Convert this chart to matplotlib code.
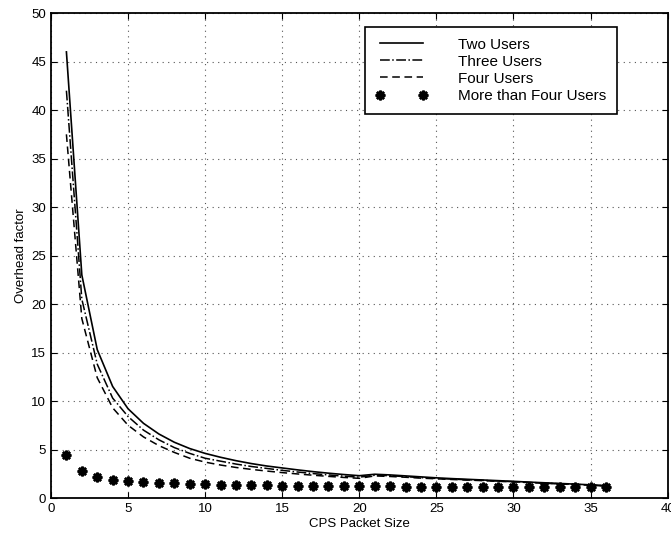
import matplotlib
matplotlib.use("Agg")
import matplotlib.pyplot as plt

x = list(range(1, 37))
two_users = [46, 23, 15.3, 11.5, 9.2, 7.7, 6.6, 5.75, 5.1, 4.6, 4.2, 3.85, 3.55, 3.3, 3.1, 2.9,
             2.72, 2.56, 2.42, 2.3, 2.45, 2.38, 2.28, 2.18, 2.08, 2.0, 1.93, 1.86, 1.79, 1.72,
             1.64, 1.57, 1.5, 1.43, 1.36, 1.28]
three_users = [42, 20.5, 13.8, 10.3, 8.4, 7.0, 6.0, 5.2, 4.6, 4.1, 3.8, 3.5, 3.25, 3.05, 2.85,
               2.68, 2.52, 2.38, 2.25, 2.15, 2.35, 2.3, 2.2, 2.1, 2.02, 1.95, 1.88, 1.82, 1.75,
               1.68, 1.61, 1.54, 1.47, 1.4, 1.33, 1.26]
four_users = [37.5, 18.5, 12.4, 9.3, 7.5, 6.3, 5.4, 4.7, 4.1, 3.7, 3.4, 3.15, 2.95, 2.78, 2.62,
              2.48, 2.35, 2.23, 2.12, 2.03, 2.28, 2.22, 2.14, 2.05, 1.98, 1.91, 1.85, 1.79, 1.72,
              1.66, 1.59, 1.52, 1.45, 1.38, 1.31, 1.24]
more_users = [4.45, 2.75, 2.2, 1.9, 1.75, 1.65, 1.58, 1.52, 1.47, 1.42, 1.39, 1.36, 1.33, 1.31,
              1.29, 1.27, 1.25, 1.23, 1.22, 1.21, 1.2, 1.19, 1.18, 1.17, 1.16, 1.15, 1.15, 1.14,
              1.13, 1.13, 1.12, 1.12, 1.11, 1.11, 1.1, 1.1]

plt.rcParams['font.family'] = ['Liberation Sans', 'DejaVu Sans']

fig = plt.figure(figsize=(6.71, 5.37), dpi=100)
ax = fig.add_axes([0.076, 0.0726, 0.919, 0.903])

ax.plot(x, two_users, '-', color='black', lw=1.2, label='Two Users')
ax.plot(x, three_users, '-.', color='black', lw=1.1, label='Three Users')
ax.plot(x, four_users, '--', color='black', lw=1.1, label='Four Users', dashes=(5, 3))
ax.plot(x, more_users, linestyle='none', marker=(8, 2, 0), markersize=7, mew=1.8,
        color='black', label='More than Four Users')

ax.set_xlim(0, 40)
ax.set_ylim(0, 50)
ax.set_xticks(range(0, 41, 5))
ax.set_yticks(range(0, 51, 5))
ax.tick_params(direction='in', labelsize=9.5, length=4, top=True, right=True)
ax.grid(True, linestyle=(0, (1, 4)), color='#555555', linewidth=0.8)
for s in ax.spines.values():
    s.set_linewidth(1.3)
ax.set_xlabel('CPS Packet Size', fontsize=9.5, labelpad=2)
ax.set_ylabel('Overhead factor', fontsize=9.5, labelpad=3)

leg = ax.legend(loc='upper right', bbox_to_anchor=(617 / 671, 1 - 27 / 537),
                bbox_transform=fig.transFigure, fontsize=11, handlelength=3.4,
                numpoints=2, fancybox=False, edgecolor='black', framealpha=1,
                borderpad=0.7, labelspacing=0.2, handletextpad=2.0, borderaxespad=0)
leg.get_frame().set_linewidth(1.2)

fig.savefig('out.png', dpi=100)
